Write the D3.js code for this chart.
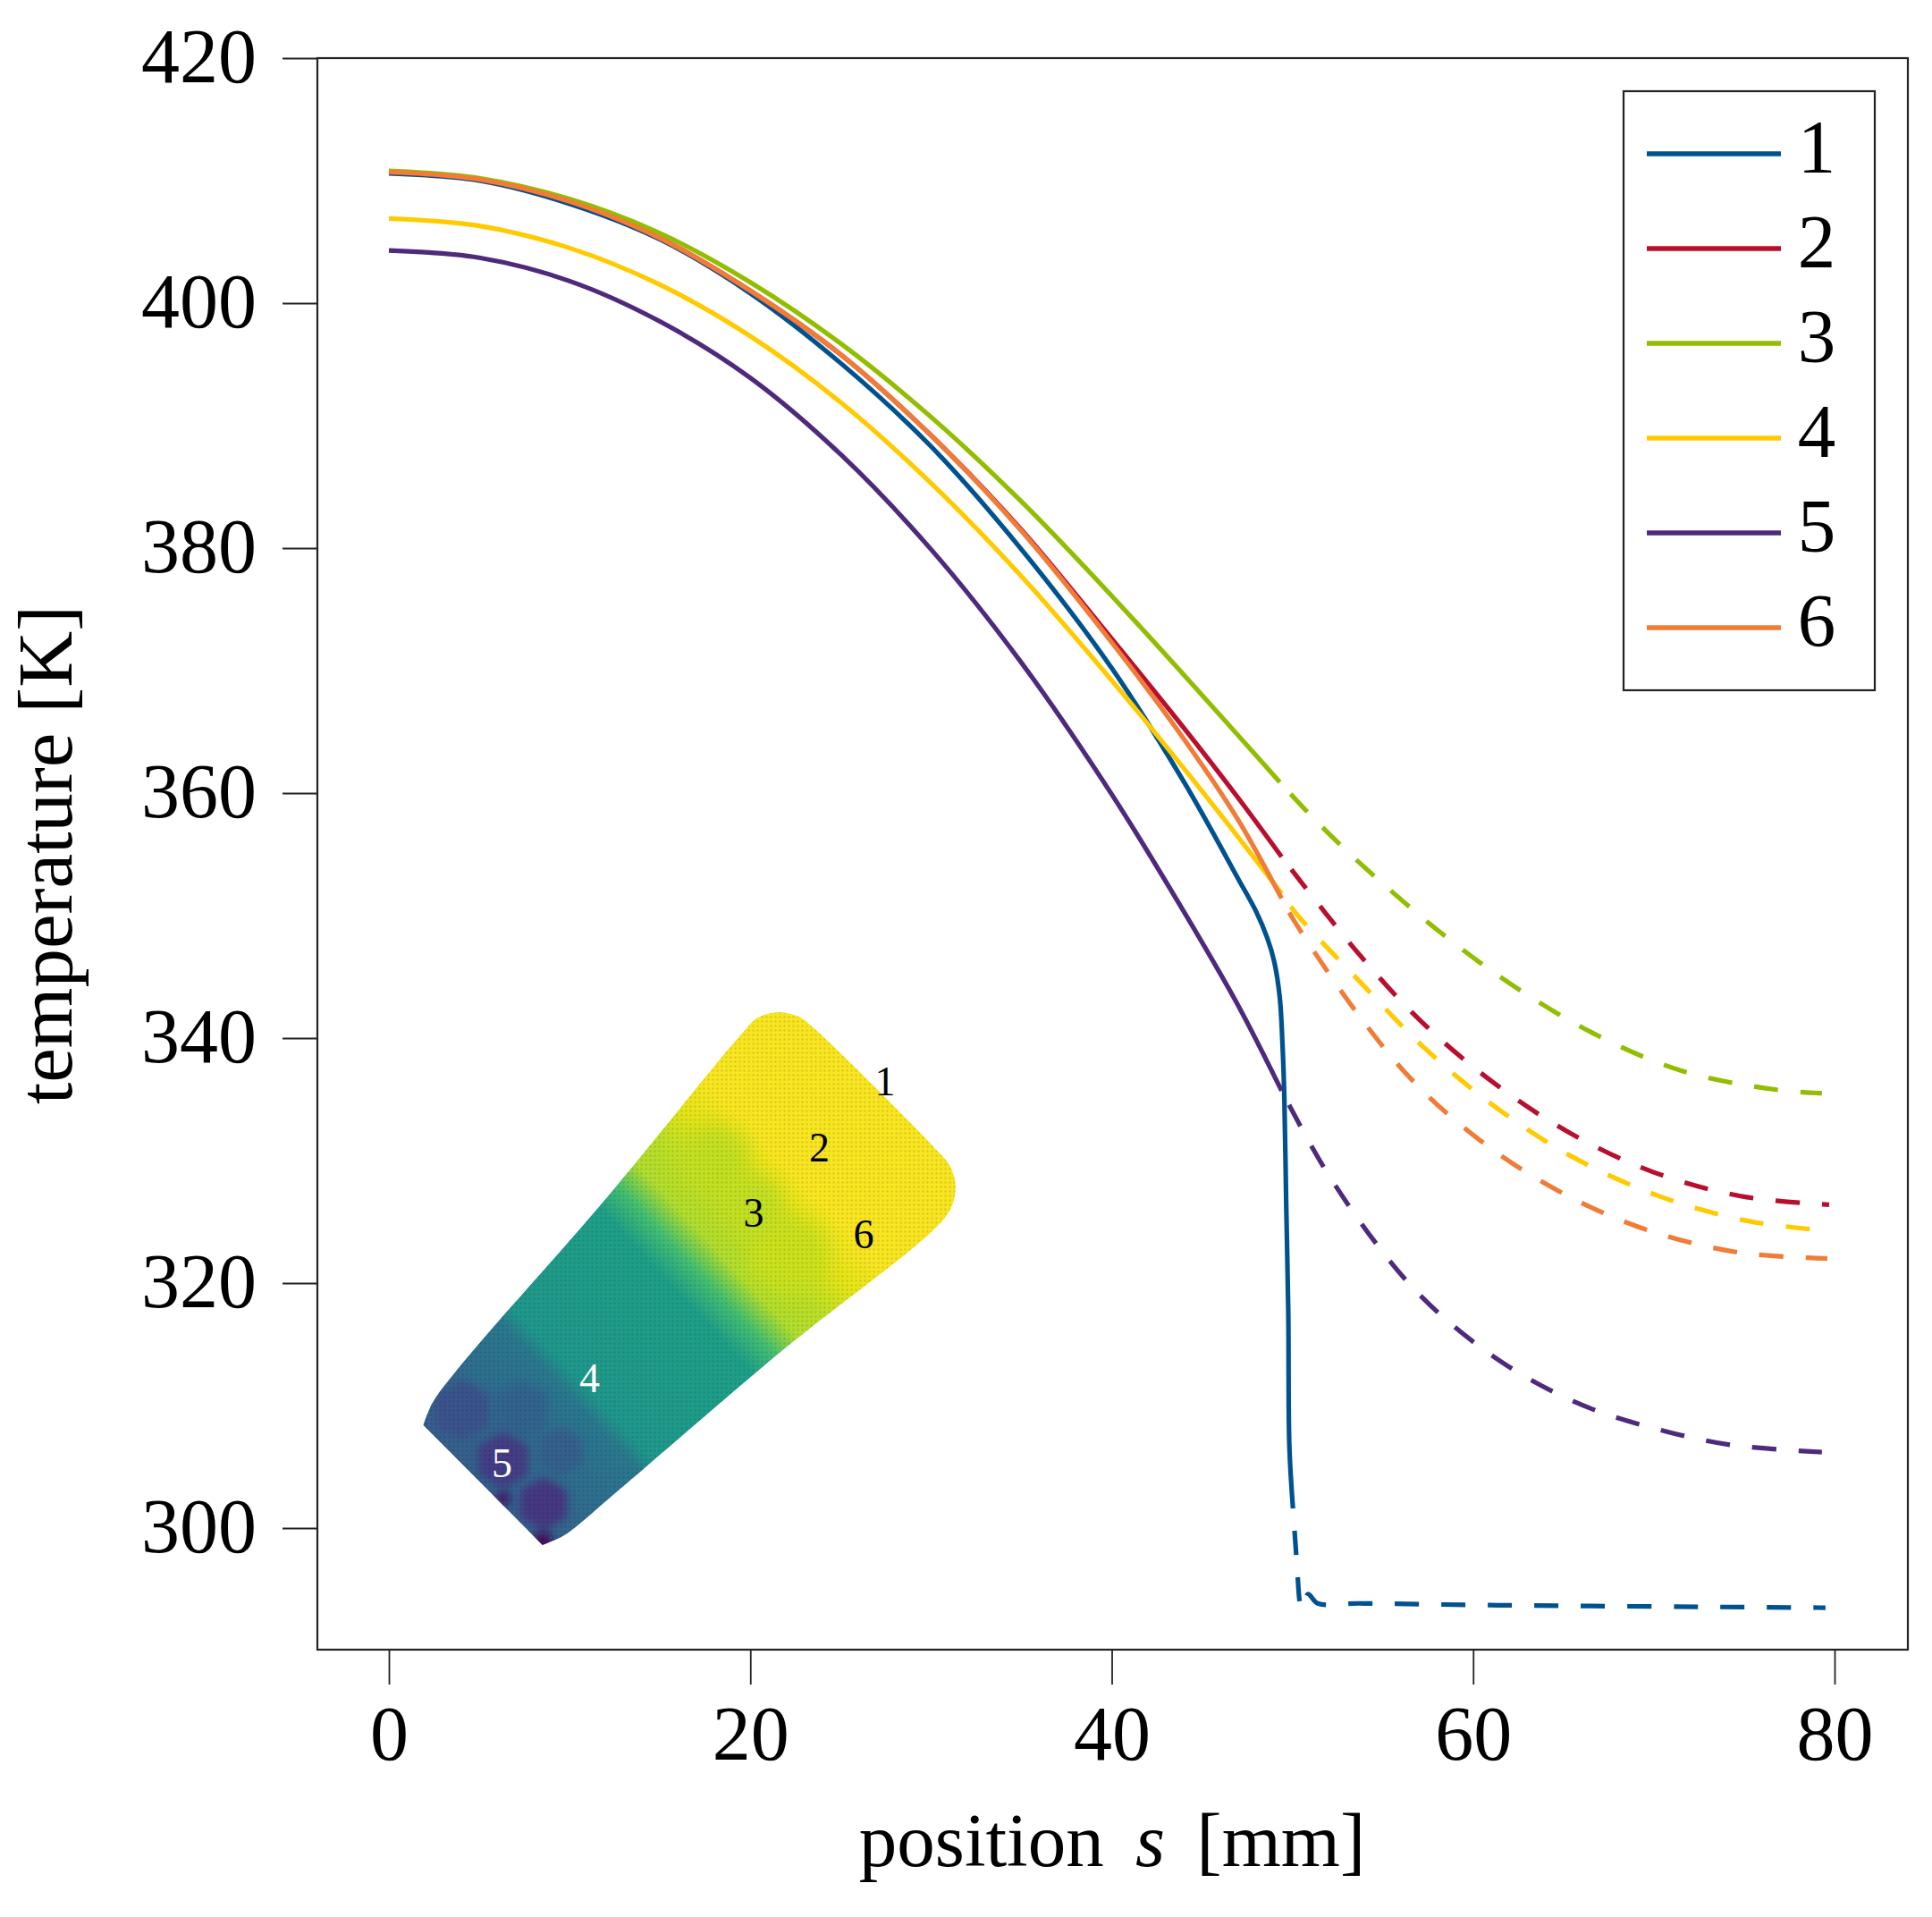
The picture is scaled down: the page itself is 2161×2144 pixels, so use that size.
<!DOCTYPE html>
<html>
<head>
<meta charset="utf-8">
<script src="https://cdn.jsdelivr.net/npm/d3@7"></script>
<style>
  body { margin: 0; background: #fff; }
  text { font-family: "Liberation Serif", serif; fill: #000; }
</style>
</head>
<body>
<svg id="chart" width="2161" height="2144"></svg>
<script>
// tick labels
var xTicks = [0, 20, 40, 60, 80]
var yTicks = [300, 320, 340, 360, 380, 400, 420]

// curves, [position s, temperature]
var curve1 = [[0,410.6],[5,410],[10,408.1],[15,405.2],[20,400.8],[25,395.1],[30,388.3],[35,379.9],[40,370.2],[44,360.9],[47,353],[48,350.3],[48.6,348.2],[49,346.2],[49.3,343.3],[49.45,339.5],[49.55,335.3],[49.66,326.1],[49.77,317.7],[49.83,306.7],[50.03,301.6],[50.25,297],[50.4,294],[50.5,293.4],[50.86,294.6],[51.4,293.85],[53.7,293.85],[61.4,293.7],[79.5,293.5]]
var curve2 = [[0,410.7],[5,410.1],[10,408.3],[15,405.3],[20,401],[25,395.8],[30,389.2],[35,381.5],[40,372.6],[44,365.3],[47,359.6],[49.4,354.8],[53.6,347],[57.1,341.4],[61,336.5],[65.3,332.3],[69.9,329.1],[74.8,327.1],[79.7,326.4]]
var curve3 = [[0,410.8],[5,410.2],[10,408.5],[15,405.7],[20,401.7],[25,396.7],[30,390.7],[35,383.8],[40,376.1],[45,368],[47,364.7],[49.3,360.9],[51,358.2],[53.5,354.6],[58.3,348.5],[62.4,344.1],[66.9,340.2],[71.6,337.3],[76.7,335.8],[79.3,335.5]]
var curve4 = [[0,406.9],[5,406.3],[10,404.5],[15,401.5],[20,397.3],[25,391.9],[30,385.3],[35,377.7],[40,369.2],[44,362],[47,356.4],[49.4,351.8],[50.3,350],[53.8,344.5],[57.3,339.2],[61.3,334.3],[65.5,330.3],[70.1,327.2],[75.1,325.1],[79.4,324.3]]
var curve5 = [[0,404.3],[5,403.7],[10,401.8],[15,398.5],[20,393.9],[25,387.65],[30,379.9],[35,370.65],[40,359.9],[44,350.3],[47,342.65],[49.4,335.7],[51.8,329.3],[54.7,323.1],[57.2,318.8],[60.1,315.1],[63.3,312],[66.8,309.6],[70.4,308],[74.2,306.8],[79.3,306.2]]
var curve6 = [[0,410.7],[5,410.1],[10,408.3],[15,405.3],[20,401],[25,395.8],[30,389.2],[35,381.4],[40,372.3],[44,364.4],[47,357.8],[49.4,351.4],[50,349.8],[53.5,342.2],[56.8,336.3],[60.7,331.3],[65,327.3],[69.7,324.3],[74.7,322.5],[79.6,322]]

var curves = [curve1, curve2, curve3, curve4, curve5, curve6]
var solidEnds = [50.03, 49.4, 49.3, 49.4, 49.4, 49.4]
var dashStarts = [27, 34, 34, 34, 34, 34]
var names = ["1", "2", "3", "4", "5", "6"]
var colors = ["#00528f", "#b80f2e", "#92bd00", "#ffcb00", "#4f2a7c", "#f07c37"]

// inset: outline and smoothed cells, local picture units
var insetOutline = [[13.3,474],[23,450],[43,422],[78,380],[215.5,223],[371.6,33.7],[387.7,18],[410.6,12],[433.6,17],[449.6,29],[582.8,161],[603.5,185.4],[609,207.8],[603.5,232],[582.8,257],[417.5,388.6],[260,523],[215.5,561],[190,583],[170,598],[146.7,608]]
var bandOffsets = [0, 0.075, 0.25, 0.275, 0.46, 0.5, 0.54, 0.59, 0.64, 0.69, 1]
var bandValues = [0.3, 0.3, 0.4, 0.53, 0.56, 0.7, 0.88, 0.9, 0.96, 0.99, 0.99]
var cells = [[57,457,35,0.25],[123,457,35,0.32],[167,503,28,0.3],[103,513,32,0.18],[148,562,30,0.16],[147,604,12,0.02],[103,556,8,0.04],[339,179,45,0.91],[422,281,50,0.92],[381,228,40,0.91]]
var insetLabels = [["1",530,89,"#000"],["2",456.5,163,"#000"],["3",383,236,"#000"],["6",506,260,"#000"],["4",199.4,421,"#fff"],["5",101.6,516,"#fff"]]

var svg = d3.select("#chart")
var x = d3.scaleLinear().domain([0, 80]).range([435, 2052])
var y = d3.scaleLinear().domain([300, 420]).range([1709, 65])
var insetX = d3.scaleLinear().domain([0, 600]).range([460, 1060])
var insetY = d3.scaleLinear().domain([0, 600]).range([1120, 1720])

var line = d3.line().x(d => x(d[0])).y(d => y(d[1])).curve(d3.curveCatmullRom.alpha(0.5))

//inset first, the curves never cross it
var defs = svg.append("defs")
var grad = defs.append("linearGradient").attr("id", "band")
    .attr("gradientUnits", "userSpaceOnUse")
    .attr("x1", insetX(25.8)).attr("y1", insetY(573))
    .attr("x2", insetX(612.2)).attr("y2", insetY(29))
bandOffsets.forEach((o, i) => {
    grad.append("stop").attr("offset", o).attr("stop-color", d3.interpolateViridis(bandValues[i]))
})
defs.append("filter").attr("id", "soft")
    .attr("x", "-50%").attr("y", "-50%").attr("width", "200%").attr("height", "200%")
    .append("feGaussianBlur").attr("stdDeviation", 5)
defs.append("filter").attr("id", "softer")
    .attr("x", "-50%").attr("y", "-50%").attr("width", "200%").attr("height", "200%")
    .append("feGaussianBlur").attr("stdDeviation", 11)
//mesh texture
var mesh = defs.append("pattern").attr("id", "mesh").attr("patternUnits", "userSpaceOnUse")
    .attr("width", 5).attr("height", 5)
mesh.append("circle").attr("cx", 2.5).attr("cy", 2.5).attr("r", 1.2).attr("fill", "#000").attr("opacity", 0.12)

var outlinePath = d3.line().x(d => insetX(d[0])).y(d => insetY(d[1]))
    .curve(d3.curveCatmullRom.alpha(0.5))(insetOutline) + "Z"
defs.append("clipPath").attr("id", "blob").append("path").attr("d", outlinePath)

var inset = svg.append("g").attr("clip-path", "url(#blob)")
inset.append("path").attr("d", outlinePath).attr("fill", "url(#band)")
var hex = d3.lineRadial().curve(d3.curveLinearClosed)
inset.selectAll(".cell").data(cells).enter().append("path")
    .attr("class", "cell")
    .attr("transform", d => "translate(" + insetX(d[0]) + "," + insetY(d[1]) + ")")
    .attr("d", d => hex(d3.range(6).map(i => [i * Math.PI / 3, d[2]])))
    .attr("fill", d => d3.interpolateViridis(d[3]))
    .attr("filter", d => d[3] > 0.5 ? "url(#softer)" : "url(#soft)")
inset.append("path").attr("d", outlinePath).attr("fill", "url(#mesh)")

svg.selectAll(".inset-label").data(insetLabels).enter().append("text")
    .attr("class", "inset-label")
    .attr("x", d => insetX(d[1])).attr("y", d => insetY(d[2]))
    .attr("dy", ".34em").attr("text-anchor", "middle")
    .attr("font-size", 46)
    .style("fill", d => d[3])
    .text(d => d[0])

//frame
svg.append("rect").attr("x", 355).attr("y", 65).attr("width", 1779).attr("height", 1780)
    .attr("fill", "none").attr("stroke", "#222").attr("stroke-width", 2.2)

//axes
var xAxis = svg.append("g").attr("transform", "translate(0,1845)")
    .call(d3.axisBottom(x).tickValues(xTicks).tickSize(39).tickSizeOuter(0))
xAxis.select(".domain").remove()
xAxis.selectAll("line").attr("stroke", "#222").attr("stroke-width", 1.8)
xAxis.selectAll("text").attr("y", 123).attr("dy", 0).attr("font-size", 86).attr("font-family", null)

var yAxis = svg.append("g").attr("transform", "translate(355,0)")
    .call(d3.axisLeft(y).tickValues(yTicks).tickSize(39).tickSizeOuter(0).tickPadding(29))
yAxis.select(".domain").remove()
yAxis.selectAll("line").attr("stroke", "#222").attr("stroke-width", 1.8)
yAxis.selectAll("text").attr("dy", ".31em").attr("font-size", 86).attr("font-family", null)

//axis titles
var xTitle = svg.append("text").attr("x", 1244).attr("y", 2087).attr("text-anchor", "middle")
    .attr("font-size", 85).attr("word-spacing", 14)
xTitle.append("tspan").text("position ")
xTitle.append("tspan").attr("font-style", "italic").text("s")
xTitle.append("tspan").text(" [mm]")

svg.append("text").attr("transform", "translate(80,956) rotate(-90)").attr("text-anchor", "middle")
    .attr("font-size", 87).text("temperature [K]")

//curves, solid up to the edge of the part and dashed after it
curves.forEach((c, i) => {
    svg.append("path").attr("d", line(c.filter(p => p[0] <= solidEnds[i])))
        .attr("fill", "none").attr("stroke", colors[i]).attr("stroke-width", 5.2)
    svg.append("path").attr("d", line(c.filter(p => p[0] >= solidEnds[i])))
        .attr("fill", "none").attr("stroke", colors[i]).attr("stroke-width", 5.2)
        .attr("stroke-dasharray", "27 25").attr("stroke-dashoffset", dashStarts[i])
})

//legend
svg.append("rect").attr("x", 1816).attr("y", 102).attr("width", 281).attr("height", 670)
    .attr("fill", "#fff").attr("stroke", "#222").attr("stroke-width", 2.2)
var legendY = d3.scalePoint().domain(names).range([172, 702])
var legend = svg.selectAll(".legend").data(names).enter().append("g")
    .attr("class", "legend")
    .attr("transform", d => "translate(0," + legendY(d) + ")")
legend.append("line").attr("x1", 1842).attr("x2", 1992)
    .attr("stroke", (d, i) => colors[i]).attr("stroke-width", 5.5)
legend.append("text").attr("x", 2032).attr("y", 21).attr("text-anchor", "middle")
    .attr("font-size", 85).text(d => d)
</script>
</body>
</html>
